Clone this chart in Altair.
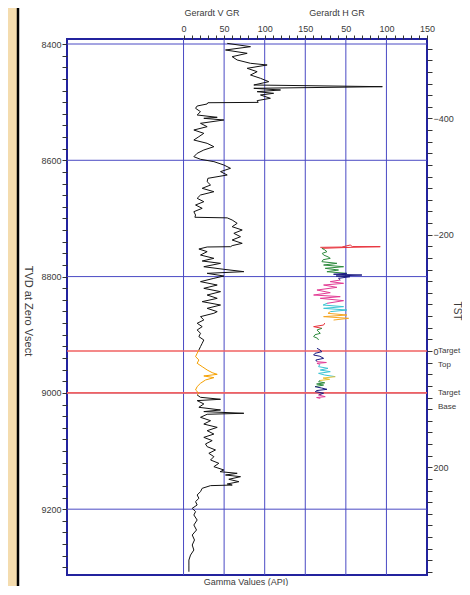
import altair as alt
import pandas as pd

# ---------------- data ----------------
# Gerardt V GR (vertical well), depth in ft TVD, gamma in API
v_depth = [
    8398.9, 8404.6, 8410.3, 8416.0, 8421.8, 8427.5, 8433.2, 8436.1, 8441.8, 8447.6,
    8453.3, 8459.0, 8464.8, 8470.5, 8473.4, 8476.2, 8479.1, 8482.0, 8484.8, 8487.7,
    8493.4, 8497.4, 8500.4, 8501.0, 8503.2, 8506.6, 8510.6, 8516.4, 8522.1, 8526.1,
    8527.8, 8530.7, 8536.4, 8542.2, 8547.9, 8553.6, 8559.4, 8565.1, 8570.8, 8576.6,
    8582.3, 8588.0, 8593.8, 8598.3, 8602.3, 8608.1, 8613.8, 8619.5, 8625.3, 8631.0,
    8636.8, 8642.5, 8648.2, 8654.0, 8659.7, 8665.4, 8671.2, 8676.9, 8682.6, 8688.4,
    8694.1, 8698.0, 8699.0, 8702.7, 8708.4, 8714.2, 8719.9, 8725.6, 8731.4, 8737.1,
    8742.8, 8746.8, 8748.6, 8749.1, 8752.6, 8757.1, 8762.9, 8768.6, 8773.2, 8777.2,
    8783.0, 8787.5, 8791.5, 8794.4, 8799.0, 8803.0, 8808.7, 8814.5, 8820.2, 8825.9,
    8831.7, 8837.4, 8843.1, 8848.9, 8854.6, 8860.3, 8863.1, 8868.9, 8874.6, 8880.3,
    8886.1, 8891.8, 8897.5, 8903.3, 8909.0, 8914.7, 8920.5, 8926.2, 8931.9, 8937.7,
    8943.4, 8949.1, 8954.9, 8960.6, 8965.2, 8968.1, 8970.9, 8973.8, 8977.8, 8983.5,
    8989.2, 8995.0, 9000.7, 9003.6, 9007.6, 9011.0, 9013.3, 9019.0, 9024.8, 9029.4,
    9032.2, 9035.1, 9036.8, 9042.0, 9047.8, 9053.6, 9059.3, 9065.0, 9070.8, 9076.5,
    9082.1, 9087.8, 9092.5, 9098.2, 9103.9, 9109.7, 9115.4, 9121.1, 9126.9, 9132.6,
    9135.5, 9138.3, 9141.2, 9144.1, 9148.6, 9152.7, 9156.7, 9158.5, 9159.5, 9164.1,
    9169.8, 9175.6, 9181.3, 9187.0, 9192.8, 9198.5, 9204.2, 9210.0, 9218.6, 9227.2,
    9235.8, 9244.4, 9253.0, 9261.6, 9270.3, 9278.9, 9287.5, 9296.1, 9307.6,
]
v_gr = [
    53.8, 82.5, 51.7, 78.4, 59.9, 66.1, 82.5, 103, 78.4, 90.7,
    82.5, 94.8, 105, 86.6, 245, 86.6, 119.5, 90.7, 111, 94.8,
    107, 90.7, 92, 30, 29, 16.8, 14.8, 20.9, 16.8, 41.5,
    25, 49.7, 20.9, 29.1, 12.7, 25, 18.9, 12.7, 29.1, 37.4,
    25, 16.8, 12.7, 20.9, 37.4, 49.7, 57.9, 45.6, 53.8, 30,
    29.1, 33.3, 23, 37.4, 20.9, 16.8, 25, 14.8, 23, 12.7,
    14.8, 14, 53.8, 59.9, 66.1, 59.9, 72.3, 62, 70.2, 59.9,
    72.3, 59.9, 58, 29.1, 18.9, 29.1, 20.9, 37.4, 23, 45.6,
    25, 49.7, 74.3, 29.1, 49.7, 37.4, 20.9, 41.5, 25, 45.6,
    29.1, 41.5, 23, 45.6, 29.1, 41.5, 37.4, 20.9, 25, 16.8,
    23, 16.8, 20.9, 18.9, 25, 23, 20.9, 18.9, 16.8, 14.8,
    18.9, 16.8, 23, 29.1, 35.3, 41.5, 25, 37.4, 27.1, 20.9,
    16.8, 14.8, 18.9, 16.8, 20.9, 45.6, 16.8, 25, 18.9, 45.6,
    25, 74.3, 29.1, 20.9, 33.3, 25, 41.5, 29.1, 37.4, 25,
    35.3, 27.1, 29.1, 39.4, 31.2, 37.4, 33.3, 43.5, 37.4, 49.7,
    45, 66.1, 51.7, 70.2, 55.8, 68.2, 53.8, 60, 33.3, 23,
    20.9, 16.8, 18.9, 14.8, 16.8, 10.7, 14.8, 12.7, 16.8, 12.7,
    16, 10.7, 13.5, 10.7, 12.7, 8.6, 6.6, 6.6, 6.6,
]
# depth interval of the V curve highlighted in the target zone
v_target_interval = [8926.2, 9003.6]

# Gerardt H GR (horizontal well), colour-coded segments
h_depth = [
    8749.7, 8749.2, 8745.7, 8748.4, 8748.6, 8749.5, 8751.4,
    8751.4, 8754.0, 8757.2, 8760.0, 8762.9, 8766.0, 8768.6, 8771.0, 8774.4, 8777.2, 8780.1, 8783.0, 8785.8, 8788.7, 8791.6, 8794.4,
    8794.4, 8796.0, 8797.3, 8799.0, 8800.2, 8803.0, 8805.9,
    8805.9, 8808.7, 8811.6, 8814.5, 8818.5, 8823.1, 8827.7, 8831.7, 8834.5, 8837.4, 8841.4, 8846.0,
    8846.0, 8848.9, 8851.7, 8854.6, 8857.5, 8860.3,
    8860.3, 8863.2, 8866.1, 8868.9, 8871.8, 8874.7,
    8880.0, 8883.3, 8886.1, 8889.0,
    8889.0, 8891.9, 8897.6, 8900.0, 8903.3, 8906.0, 8909.1,
    8923.4, 8926.0, 8929.1, 8932.0, 8934.9, 8937.0, 8940.6, 8943.5, 8946.3,
    8946.3, 8947.8, 8949.2, 8951.0,
    8951.0, 8954.9, 8957.8, 8960.7, 8963.5, 8966.4, 8969.3, 8972.1,
    8972.1, 8974.5, 8976.7, 8978.7,
    8978.7, 8980.7, 8982.7, 8984.7, 8986.5, 8989.3,
    8989.3, 8991.6, 8993.9, 8996.0, 8997.9, 9000.5, 9003.6,
    9003.6, 9006.5, 9008.0, 9009.4,
]
h_gr = [
    18.5, 45.0, 55.4, 58.0, 92.4, 60.0, 20.5,
    20.5, 24.0, 26.7, 21.0, 22.6, 28.0, 30.8, 22.0, 20.5, 39.0, 22.6, 47.2, 24.6, 41.0, 26.7, 51.3,
    51.3, 34.9, 69.8, 38.0, 55.0, 41.0, 43.1,
    43.1, 30.8, 47.2, 22.6, 39.0, 14.4, 30.8, 10.3, 43.1, 18.5, 47.2, 26.7,
    26.7, 22.0, 47.2, 22.6, 51.3, 30.8,
    30.8, 28.0, 51.3, 22.6, 53.4, 34.9,
    24.0, 22.6, 10.3, 20.5,
    20.5, 14.4, 18.5, 12.0, 10.3, 15.0, 16.4,
    14.4, 18.0, 20.5, 12.0, 10.3, 18.0, 22.6, 13.0, 14.4,
    14.4, 26.0, 14.4, 18.0,
    18.0, 16.4, 28.0, 18.5, 30.8, 16.4, 24.0, 36.9,
    36.9, 22.0, 30.0, 18.0,
    18.0, 16.4, 24.0, 14.0, 22.6, 12.0,
    12.0, 20.0, 26.7, 14.0, 12.4, 22.6, 16.4,
    16.4, 24.6, 14.0, 18.5,
]
h_seg = (["H01"] * 7 + ["H02"] * 16 + ["H03"] * 7 + ["H04"] * 12 + ["H05"] * 6
         + ["H06"] * 6 + ["H07"] * 4 + ["H08"] * 7 + ["H09"] * 9 + ["H10"] * 4
         + ["H11"] * 8 + ["H12"] * 4 + ["H13"] * 6 + ["H14"] * 7 + ["H15"] * 4)
h_offset = 150          # H track starts where the V track reads 150

depth_grid = [8400, 8600, 8800, 9000, 9200]
gr_grid = [0, 50, 100, 150, 200, 250]
target_depth = [8928, 9000]
target_tst = [0, 72]
target_label = ["Target\nTop", "Target\nBase"]
target_datum_depth = 8928

assert len(v_depth) == len(v_gr)
assert len(h_depth) == len(h_gr) == len(h_seg)

# ---------------- style ----------------
W, H = 360, 536
D0, D1 = 8391.4, 9313.2
X0, X1 = -143.6, 300
FONT = "Liberation Sans"
LBL = "#3a3a3a"
GRID = "#4a4ac4"
BORDER = "#23239e"
RED = "#f06262"
TAN = "#f4dcae"
seg_colors = {
    "V1": "#111111", "V2": "#f5a000", "V3": "#111111",
    "H01": "#e8303a", "H02": "#2e8b3e", "H03": "#1a1a80", "H04": "#e33b95",
    "H05": "#3cc4d4", "H06": "#f5a623", "H07": "#e8303a", "H08": "#2e8b3e",
    "H09": "#1a1a80", "H10": "#e33b95", "H11": "#3cc4d4", "H12": "#e8c030",
    "H13": "#2e8b3e", "H14": "#1a1a80", "H15": "#e33b95",
}

# ---------------- tables ----------------
rows = []
i = 0
t0, t1 = v_target_interval
for d, g in zip(v_depth, v_gr):
    for seg, ok in (("V1", d <= t0), ("V2", t0 <= d <= t1), ("V3", d >= t1)):
        if ok:
            rows.append({"depth": d, "x": g, "seg": seg, "i": i})
            i += 1
for d, g, s in zip(h_depth, h_gr, h_seg):
    rows.append({"depth": d, "x": g + h_offset, "seg": s, "i": i})
    i += 1
curves = pd.DataFrame(rows)

one = pd.DataFrame({"a": [0]})

xs = alt.Scale(domain=[X0, X1], nice=False, zero=False)
ys = alt.Scale(domain=[D0, D1], reverse=True, nice=False, zero=False)
ts = alt.Scale(domain=[D0 - target_datum_depth, D1 - target_datum_depth],
               reverse=True, nice=False, zero=False)

x_axis = alt.Axis(
    orient="top", values=list(range(0, 301, 10)),
    labelExpr="datum.value % 50 == 0 ? format(datum.value > 150 ? datum.value - 150 : datum.value, 'd') : ''",
    domain=False, grid=False, tickSize=4, tickColor="#333", labelFontSize=9,
    labelColor=LBL, labelFont=FONT, labelPadding=2, title=None,
    labelOverlap=False, labelFlush=False)
y_axis = alt.Axis(
    orient="left", values=list(range(8400, 9301, 20)), format="d",
    labelExpr="datum.value % 200 == 0 ? datum.label : ''",
    domain=False, grid=False, tickSize=5, tickColor="#333", labelFontSize=9,
    labelColor=LBL, labelFont=FONT, labelPadding=1, title=None,
    labelOverlap=False, labelFlush=False)
r_axis = alt.Axis(
    orient="right", values=list(range(-520, 381, 20)), format="d",
    labelExpr="datum.value % 200 == 0 ? datum.label : ''",
    domain=False, grid=False, tickSize=5, tickColor="#333", labelFontSize=9,
    labelColor=LBL, labelFont=FONT, labelPadding=1, title=None,
    labelOverlap=False, labelFlush=False)

X = alt.X("x:Q", scale=xs, axis=x_axis)
Y = alt.Y("depth:Q", scale=ys, axis=y_axis)

tan = alt.Chart(one).mark_rect(color=TAN).encode(
    x=alt.value(-59), x2=alt.value(-50), y=alt.value(-31), y2=alt.value(560))
frame = alt.Chart(one).mark_rule(color="#000", strokeWidth=2.5).encode(
    x=alt.value(-49), y=alt.value(-31), y2=alt.value(560))

hgrid = alt.Chart(pd.DataFrame({"depth": depth_grid})).mark_rule(
    color=GRID, strokeWidth=1).encode(y=Y, x=alt.value(0), x2=alt.value(W))
vgrid = alt.Chart(pd.DataFrame({"x": gr_grid})).mark_rule(
    color=GRID, strokeWidth=1).encode(x=X, y=alt.value(0), y2=alt.value(H))
targets = alt.Chart(pd.DataFrame({"depth": target_depth})).mark_rule(
    color=RED, strokeWidth=1.6).encode(y=Y, x=alt.value(0), x2=alt.value(W))

lines = alt.Chart(curves).mark_line(strokeWidth=1).encode(
    x=X, y=Y, detail="seg:N", order=alt.Order("i:Q"),
    color=alt.Color("seg:N", legend=None,
                    scale=alt.Scale(domain=list(seg_colors), range=list(seg_colors.values()))))


def label(txt, x, y, size=9, angle=0):
    return alt.Chart(one).mark_text(
        text=txt, font=FONT, fontSize=size, color=LBL, angle=angle,
        align="center", baseline="middle").encode(x=alt.value(x), y=alt.value(y))


texts = [
    label("Gerardt V GR", 145, -26),
    label("Gerardt H GR", 270, -26),
    label("Gamma Values (API)", 179, 543, 9),
    label("TVD at Zero Vsect", -39.5, 272, 11, 90),
    label("TST", 390, 272, 10, 90),
]

inner = alt.layer(tan, frame, hgrid, vgrid, targets, lines, *texts)

right = alt.Chart(pd.DataFrame({"tst": target_tst, "label": target_label})).mark_text(
    align="left", baseline="middle", font=FONT, fontSize=8, color=LBL,
    lineBreak="\n", lineHeight=14).encode(
    y=alt.Y("tst:Q", scale=ts, axis=r_axis), x=alt.value(371), text="label:N")

chart = alt.layer(inner, right).resolve_scale(y="independent").properties(
    width=W, height=H,
    padding={"left": 59, "top": 31, "right": 35, "bottom": 11},
    autosize=alt.AutoSizeParams(type="none"),
    background="white",
).configure_view(stroke=BORDER, strokeWidth=2)

chart.save("out.html", embed_options={"renderer": "svg", "actions": False})
